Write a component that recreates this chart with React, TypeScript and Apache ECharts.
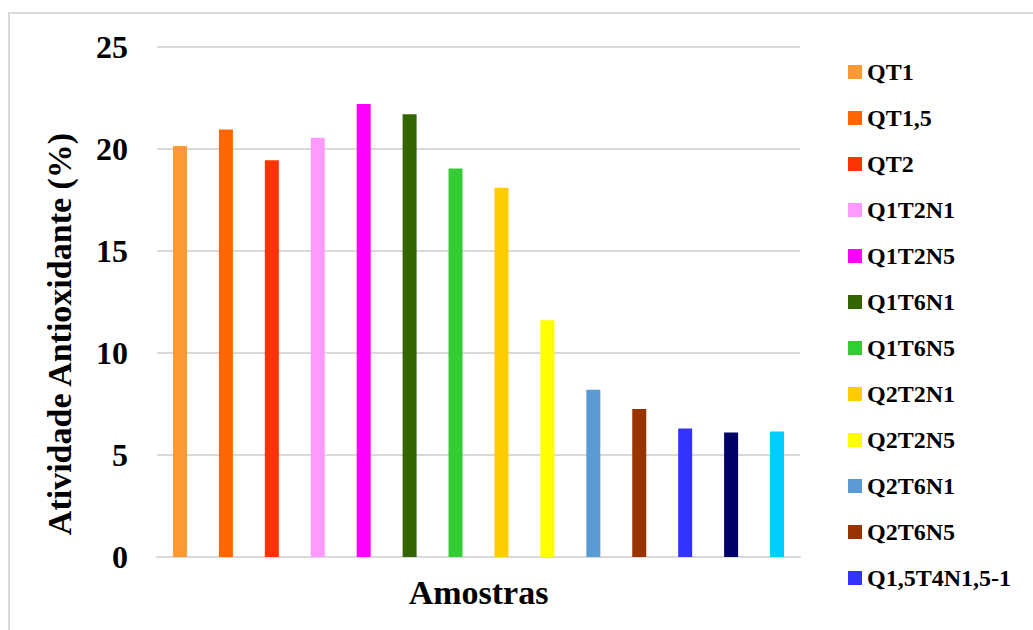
import React, { useEffect, useRef } from "react";
import * as echarts from "echarts";

const samples = [
  "QT1", "QT1,5", "QT2", "Q1T2N1", "Q1T2N5", "Q1T6N1", "Q1T6N5",
  "Q2T2N1", "Q2T2N5", "Q2T6N1", "Q2T6N5", "Q1,5T4N1,5-1", "Q1,5T4N1,5-2", "Q1,5T4N1,5-3",
];
const values = [20.15, 20.95, 19.45, 20.55, 22.2, 21.7, 19.05, 18.1, 11.6, 8.2, 7.25, 6.3, 6.1, 6.15];
const colors = [
  "#FF9933", "#FF6600", "#FF3300", "#FF99FF", "#FF00FF", "#336600", "#33CC33",
  "#FFCC00", "#FFFF00", "#5B9BD5", "#993300", "#3333FF", "#000066", "#00CCFF",
];
const legendShown = samples.slice(0, 12);
const yTicks = { min: 0, max: 25, interval: 5 };
const yTitle = "Atividade Antioxidante (%)";
const xTitle = "Amostras";

const FONT = "'Liberation Serif', 'Times New Roman', serif";

export default function App() {
  const ref = useRef<HTMLDivElement>(null);
  useEffect(() => {
    if (!ref.current) return;
    const chart = echarts.init(ref.current, undefined, { renderer: "svg" });
    const series = samples.map((name, i) => ({
      name,
      type: "bar",
      stack: "all",
      barWidth: 14,
      itemStyle: { color: colors[i] },
      data: samples.map((_, j) => (j === i ? values[i] : "-")),
    }));
    chart.setOption({
      animation: false,
      backgroundColor: "#ffffff",
      graphic: [
        {
          type: "rect",
          shape: { x: 9, y: 13, width: 1100, height: 700 },
          style: { fill: "none", stroke: "#d9d9d9", lineWidth: 2 },
          silent: true,
        },
        {
          type: "text",
          x: 59,
          y: 334,
          rotation: Math.PI / 2,
          style: {
            text: yTitle,
            fontFamily: FONT,
            fontWeight: "bold",
            fontSize: 34,
            fill: "#000",
            align: "center",
            verticalAlign: "middle",
          },
          silent: true,
        },
      ],
      grid: { left: 157, right: 233, top: 47, bottom: 73 },
      legend: {
        data: legendShown,
        orient: "vertical",
        left: 843,
        top: 55,
        itemWidth: 14,
        itemHeight: 14,
        itemGap: 22,
        icon: "rect",
        textStyle: { fontFamily: FONT, fontWeight: "bold", fontSize: 24, color: "#000", lineHeight: 24 },
      },
      xAxis: {
        type: "category",
        data: samples,
        name: xTitle,
        nameLocation: "middle",
        nameGap: 18,
        nameTextStyle: { fontFamily: FONT, fontWeight: "bold", fontSize: 34, color: "#000" },
        axisLine: { lineStyle: { color: "#d9d9d9", width: 2 } },
        axisTick: { show: false },
        axisLabel: { show: false },
      },
      yAxis: {
        type: "value",
        min: yTicks.min,
        max: yTicks.max,
        interval: yTicks.interval,
        axisLine: { show: false },
        axisTick: { show: false },
        axisLabel: { fontFamily: FONT, fontWeight: "bold", fontSize: 32, color: "#000", margin: 29 },
        splitLine: { lineStyle: { color: "#d9d9d9", width: 2 } },
      },
      series,
    });
    return () => chart.dispose();
  }, []);
  return (
    <div
      ref={ref}
      style={{ position: "fixed", left: 0, top: 0, width: 1033, height: 630 }}
    />
  );
}
